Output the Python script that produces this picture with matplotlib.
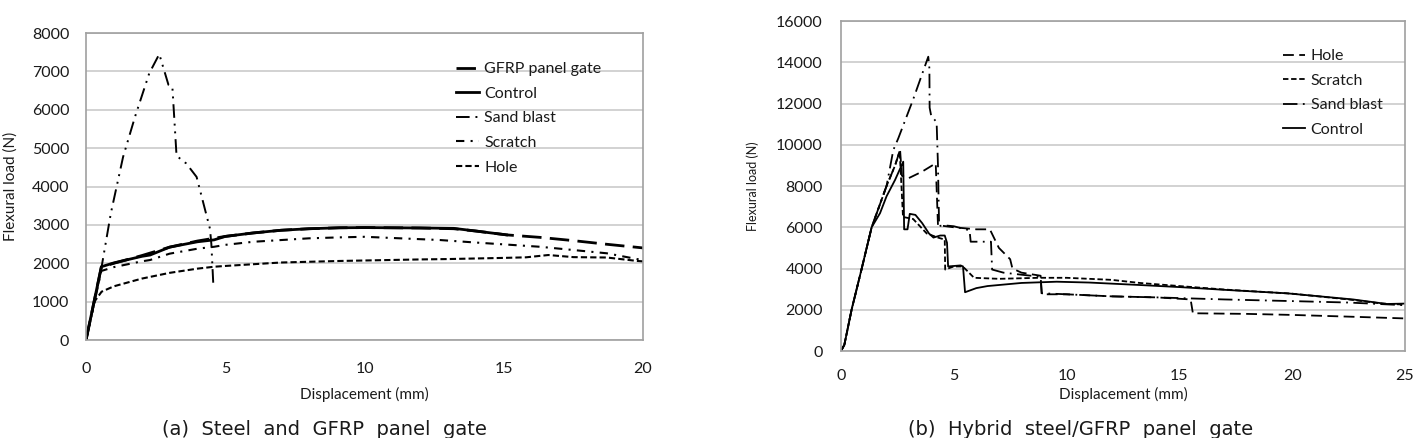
import matplotlib
matplotlib.use("Agg")
import matplotlib.pyplot as plt

# ---------------- (a) Steel and GFRP panel gate ----------------
gfrp_x = [0, 0.55, 1, 2, 3, 4, 5, 6, 7, 8, 9.1, 10, 12, 13.2, 14, 15.1, 16.3, 17.5, 18.7, 20]
gfrp_y = [0, 1900, 2000, 2200, 2420, 2580, 2700, 2790, 2860, 2900, 2925, 2930, 2920, 2900, 2840, 2740, 2675, 2590, 2495, 2400]

ctrl_a_x = [0, 0.55, 1, 2, 2.3, 3, 4, 4.6, 5, 6, 7, 8, 9.1, 10, 12, 13.2, 14, 15.1]
ctrl_a_y = [0, 1910, 2010, 2180, 2215, 2420, 2560, 2610, 2700, 2790, 2860, 2900, 2925, 2930, 2920, 2910, 2840, 2740]

sand_a_x = [0, 0.56, 0.89, 1.33, 1.76, 2.27, 2.63, 2.96, 3.1, 3.25, 3.6, 3.97, 4.45, 4.5, 4.57]
sand_a_y = [0, 1910, 3300, 4770, 5820, 6950, 7450, 6650, 6600, 4800, 4600, 4250, 2900, 2500, 1450]

scr_a_x = [0, 0.55, 1, 2, 2.3, 3, 4, 4.6, 5, 6, 8, 9.1, 10, 12.7, 14, 16.3, 18.7, 20]
scr_a_y = [0, 1800, 1900, 2050, 2085, 2250, 2380, 2430, 2480, 2560, 2650, 2675, 2690, 2606, 2540, 2430, 2260, 2080]

hole_a_x = [0, 0.3, 0.56, 1, 2, 3, 4, 4.6, 5, 7, 9.1, 12, 13, 15, 15.8, 16.6, 17.5, 18.7, 19.8, 20]
hole_a_y = [0, 1000, 1260, 1400, 1600, 1750, 1860, 1910, 1930, 2020, 2060, 2100, 2110, 2140, 2155, 2215, 2160, 2150, 2060, 2050]

# ---------------- (b) Hybrid steel/GFRP panel gate ----------------
hole_b_x = [0, 0.15, 0.47, 0.92, 1.36, 2.02, 2.4, 2.62, 2.7, 2.98, 3.6, 4.2, 4.3, 5, 6, 6.6, 7.0, 7.5, 7.6, 8.0, 8.85, 8.9, 10, 12, 14, 15.5, 15.6, 18, 20, 23, 25]
hole_b_y = [0, 300, 2000, 4000, 6000, 8000, 9000, 9750, 8500, 8370, 8700, 9100, 6100, 6000, 5900, 5900, 5000, 4450, 4000, 3800, 3650, 2750, 2750, 2650, 2600, 2500, 1830, 1800, 1750, 1650, 1580]

scr_b_x = [0, 0.15, 0.47, 0.92, 1.36, 2.02, 2.4, 2.6, 2.7, 2.75, 3.2, 3.8, 4.3, 4.6, 4.62, 5.0, 5.4, 5.9, 7, 8.8, 10, 12, 13.25, 15, 17, 20, 22.5, 24, 25]
scr_b_y = [0, 300, 2000, 4000, 6000, 8000, 9000, 9700, 7600, 6500, 6400, 5700, 5500, 5400, 3950, 4100, 4100, 3550, 3500, 3550, 3550, 3450, 3300, 3150, 2980, 2780, 2500, 2300, 2250]

sand_b_x = [0, 0.15, 0.47, 0.92, 1.36, 2.02, 2.32, 2.54, 3.2, 3.87, 3.92, 3.93, 4.0, 4.24, 4.3, 4.35, 4.5, 5.0, 5.7, 5.75, 6.65, 6.7, 7.2, 8.0, 8.85, 8.9, 10, 12, 14, 15.5, 17, 20, 22.5, 25]
sand_b_y = [0, 300, 2000, 4000, 6000, 8000, 9745, 10310, 12200, 14270, 13700, 11800, 11400, 11100, 9000, 6050, 6100, 6050, 5850, 5300, 5300, 3950, 3800, 3700, 3600, 2800, 2750, 2650, 2600, 2550, 2500, 2420, 2350, 2220]

ctrl_b_x = [0, 0.15, 0.47, 0.92, 1.36, 1.73, 2.02, 2.4, 2.76, 2.8, 2.95, 3.05, 3.3, 3.6, 3.9, 4.1, 4.4, 4.6, 4.7, 4.75, 5.3, 5.41, 5.5, 6.0, 6.5, 8, 9.56, 11, 13.25, 15, 17.1, 19.75, 22.7, 24.2, 25]
ctrl_b_y = [0, 300, 2000, 4000, 6000, 6680, 7500, 8300, 9180, 5900, 5900, 6650, 6600, 6200, 5700, 5500, 5600, 5600, 5250, 4100, 4150, 4100, 2850, 3050, 3150, 3300, 3360, 3320, 3200, 3100, 2960, 2800, 2500, 2280, 2300]

TXT = "#1a1a1a"
GRID = "#cfcfcf"
SPINE = "#a0a0a0"
FONT = "Lato"

fig = plt.figure(figsize=(14.22, 4.38), dpi=100)
ax1 = fig.add_axes([0.0605, 0.2237, 0.3917, 0.7009])
ax2 = fig.add_axes([0.5914, 0.1986, 0.3966, 0.7534])

# --- panel (a) ---
ax1.plot(gfrp_x, gfrp_y, color="black", lw=2.0, dashes=(7, 3), label="GFRP panel gate")
ax1.plot(ctrl_a_x, ctrl_a_y, color="black", lw=2.0, label="Control")
ax1.plot(sand_a_x, sand_a_y, color="black", lw=1.4, dashes=(7, 3, 1, 3, 1, 3), label="Sand blast")
ax1.plot(scr_a_x, scr_a_y, color="black", lw=1.5, dashes=(4, 3, 1, 3), label="Scratch")
ax1.plot(hole_a_x, hole_a_y, color="black", lw=1.5, dashes=(3, 1.5), label="Hole")

ax1.set_xlim(0, 20)
ax1.set_ylim(0, 8000)
ax1.set_xticks([0, 5, 10, 15, 20])
ax1.set_yticks(range(0, 8001, 1000))

# --- panel (b) ---
ax2.plot(hole_b_x, hole_b_y, color="black", lw=1.3, dashes=(6, 3), label="Hole")
ax2.plot(scr_b_x, scr_b_y, color="black", lw=1.3, dashes=(3, 1.5), label="Scratch")
ax2.plot(sand_b_x, sand_b_y, color="black", lw=1.3, dashes=(8, 3, 1, 3), label="Sand blast")
ax2.plot(ctrl_b_x, ctrl_b_y, color="black", lw=1.3, label="Control")

ax2.set_xlim(0, 25)
ax2.set_ylim(0, 16000)
ax2.set_xticks([0, 5, 10, 15, 20, 25])
ax2.set_yticks(range(0, 16001, 2000))

for ax in (ax1, ax2):
    ax.grid(True, axis="y", color=GRID, lw=1.3)
    ax.set_axisbelow(True)
    for s in ax.spines.values():
        s.set_color(SPINE)
        s.set_linewidth(1.2)
    ax.tick_params(length=0, labelsize=11.5, labelcolor=TXT)
    for lab in ax.get_xticklabels() + ax.get_yticklabels():
        lab.set_fontfamily(FONT)

ax1.tick_params(axis="y", pad=12)
ax1.tick_params(axis="x", pad=16)
ax2.tick_params(axis="y", pad=13)
ax2.tick_params(axis="x", pad=13)

ax1.set_ylabel("Flexural load (N)", fontsize=11, family=FONT, color=TXT, labelpad=10)
ax1.set_xlabel("Displacement (mm)", fontsize=11, family=FONT, color=TXT, labelpad=8)
ax2.set_ylabel("Flexural load (N)", fontsize=9, family=FONT, color=TXT, labelpad=12)
ax2.set_xlabel("Displacement (mm)", fontsize=11, family=FONT, color=TXT, labelpad=3)

leg1 = ax1.legend(loc="upper left", bbox_to_anchor=(0.665, 0.905), frameon=False,
                  handlelength=1.4, handletextpad=0.35, labelspacing=0.65,
                  borderpad=0, borderaxespad=0, prop={"family": FONT, "size": 11.5})
leg2 = ax2.legend(loc="upper left", bbox_to_anchor=(0.783, 0.915), frameon=False,
                  handlelength=1.4, handletextpad=0.35, labelspacing=0.65,
                  borderpad=0, borderaxespad=0, prop={"family": FONT, "size": 11.5})
for leg in (leg1, leg2):
    for t in leg.get_texts():
        t.set_color(TXT)

fig.text(0.228, 1 - 435 / 438, "(a)  Steel  and  GFRP  panel  gate", ha="center", va="baseline",
         fontsize=14, color=TXT, family="DejaVu Sans")
fig.text(0.760, 1 - 435 / 438, "(b)  Hybrid  steel/GFRP  panel  gate", ha="center", va="baseline",
         fontsize=14, color=TXT, family="DejaVu Sans")

fig.savefig("out.png", dpi=100)
plt.close(fig)
